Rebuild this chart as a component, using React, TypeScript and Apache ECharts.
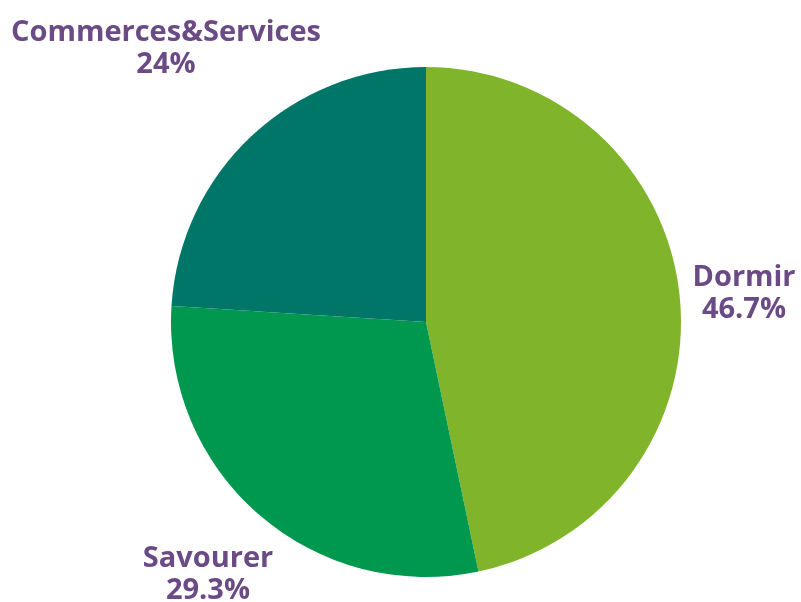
import React, { useEffect, useRef } from "react";
import * as echarts from "echarts";

const categories = ["Dormir", "Savourer", "Commerces&Services"];
const values = [46.7, 29.3, 24];
const colors = ["#80b42a", "#00984f", "#007669"];

const labelPos: Record<string, [number, number]> = {
  Dormir: [744, 290],
  Savourer: [208, 571],
  "Commerces&Services": [166, 45],
};

export default function App() {
  const ref = useRef<HTMLDivElement>(null);
  useEffect(() => {
    if (!ref.current) return;
    const chart = echarts.init(ref.current, undefined, { renderer: "svg" });
    chart.setOption({
      animation: false,
      series: [
        {
          type: "pie",
          center: [426, 322],
          radius: 255,
          startAngle: 90,
          clockwise: true,
          data: categories.map((c, i) => ({
            name: c,
            value: values[i],
            itemStyle: { color: colors[i] },
          })),
          label: {
            show: true,
            position: "outside",
            formatter: (p: any) => `${p.name}\n${p.value}%`,
            fontFamily: "Open Sans",
            fontWeight: "bold",
            fontSize: 29,
            lineHeight: 32,
            color: "#6a4b86",
            align: "center",
            overflow: "none",
            width: 400,
          },
          labelLine: { show: false },
          labelLayout: (params: any) => {
            const name = categories[params.dataIndex];
            const pos = labelPos[name];
            return { x: pos[0], y: pos[1], align: "center", verticalAlign: "middle" };
          },
          emphasis: { disabled: true },
        },
      ],
    });
    return () => chart.dispose();
  }, []);
  return (
    <div
      ref={ref}
      style={{ position: "fixed", left: 0, top: 0, width: 801, height: 602 }}
    />
  );
}
